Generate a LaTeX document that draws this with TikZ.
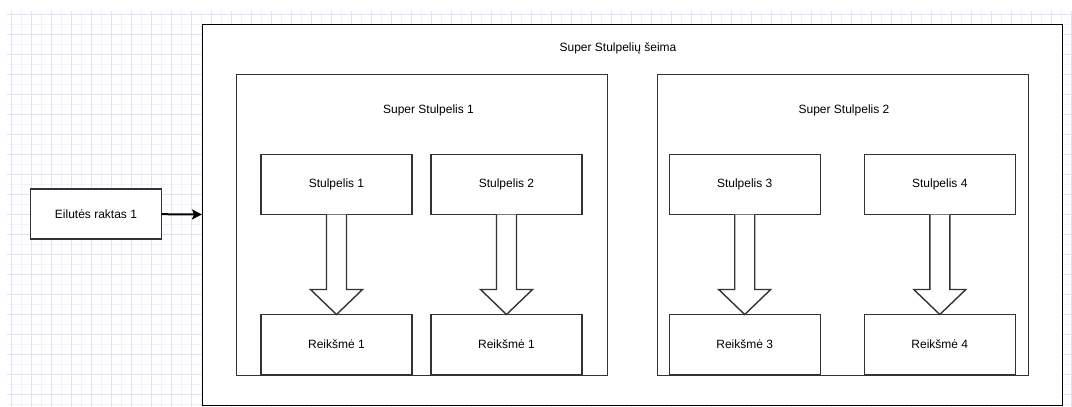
\documentclass[tikz,border=0pt]{standalone}
\usepackage{fontspec}
\setmainfont{Liberation Sans}
\usetikzlibrary{arrows.meta,calc}
\definecolor{gridmajor}{RGB}{226,226,246}
\definecolor{gridminor}{RGB}{241,241,251}
\definecolor{edge}{RGB}{51,51,51}
% hollow block arrow between two stacked boxes
\newcommand{\blockarr}[2]{%
  \draw[hollowarrow]
    ($(#1.south)+(-10,0)$) -- ($(#2.north)+(-10,-25)$) -- ($(#2.north)+(-26,-25)$)
    -- (#2.north) -- ($(#2.north)+(26,-25)$) -- ($(#2.north)+(10,-25)$)
    -- ($(#1.south)+(10,0)$);}
\begin{document}
\begin{tikzpicture}[x=1pt,y=-1pt,
  label12/.style={font=\fontsize{12}{14}\selectfont, inner sep=0pt},
  leafbox/.style={draw=edge, fill=white, line width=1.4pt, inner sep=0pt, outer sep=0pt,
    minimum width=151pt, minimum height=60pt, label12},
  groupbox/.style={draw=edge, fill=white, line width=1pt, inner sep=0pt, outer sep=0pt,
    minimum width=371pt, minimum height=301pt},
  familybox/.style={draw=black, fill=white, line width=1pt, inner sep=0pt, outer sep=0pt,
    minimum width=860pt, minimum height=381pt},
  keybox/.style={draw=edge, fill=white, line width=1.8pt, inner sep=0pt, outer sep=0pt,
    minimum width=131pt, minimum height=50pt, label12},
  hollowarrow/.style={draw=edge, fill=white, line width=1.4pt, line join=miter},
  link/.style={draw=black, line width=2pt, -{Stealth[length=10pt,width=10pt,inset=2pt]}}]
\useasboundingbox (0,0) rectangle (1072,407);
\fill[white] (0,0) rectangle (1072,407);

% background grid
\foreach \k in {0,...,53} {
  \draw[gridminor, line width=0.8pt] (21.5+20*\k,11) -- (21.5+20*\k,407);
}
\foreach \k in {0,...,19} {
  \draw[gridminor, line width=0.8pt] (7,24+20*\k) -- (1072,24+20*\k);
}
\foreach \k in {0,...,53} {
  \draw[gridmajor, line width=0.8pt] (11.5+20*\k,11) -- (11.5+20*\k,407);
}
\foreach \k in {0,...,19} {
  \draw[gridmajor, line width=0.8pt] (7,14+20*\k) -- (1072,14+20*\k);
}

% column family container
\node[familybox] (family) at (632,214.5) {};
\node[label12] (familytitle) at (618,48) {Super Stulpelių šeima};

% super columns
\node[groupbox] (sc1) at (421.5,224.5) {};
\node[label12] (sc1title) at (428.5,110) {Super Stulpelis 1};
\node[groupbox] (sc2) at (842.5,224.5) {};
\node[label12] (sc2title) at (844,110) {Super Stulpelis 2};

% columns and their values
\node[leafbox] (col1) at (336.5,184.5) {Stulpelis 1};
\node[leafbox] (col2) at (506.5,184.5) {Stulpelis 2};
\node[leafbox] (col3) at (744.7,184.5) {Stulpelis 3};
\node[leafbox] (col4) at (939.8,184.5) {Stulpelis 4};
\node[leafbox] (val1) at (336.5,344.5) {Reikšmė 1};
\node[leafbox] (val2) at (506.5,344.5) {Reikšmė 1};
\node[leafbox] (val3) at (744.7,344.5) {Reikšmė 3};
\node[leafbox] (val4) at (939.8,344.5) {Reikšmė 4};

\blockarr{col1}{val1}
\blockarr{col2}{val2}
\blockarr{col3}{val3}
\blockarr{col4}{val4}

% row key
\node[keybox] (rowkey) at (96,214.2) {Eilutės raktas 1};
\draw[link] (rowkey.east) -- (family.west);
\end{tikzpicture}
\end{document}
